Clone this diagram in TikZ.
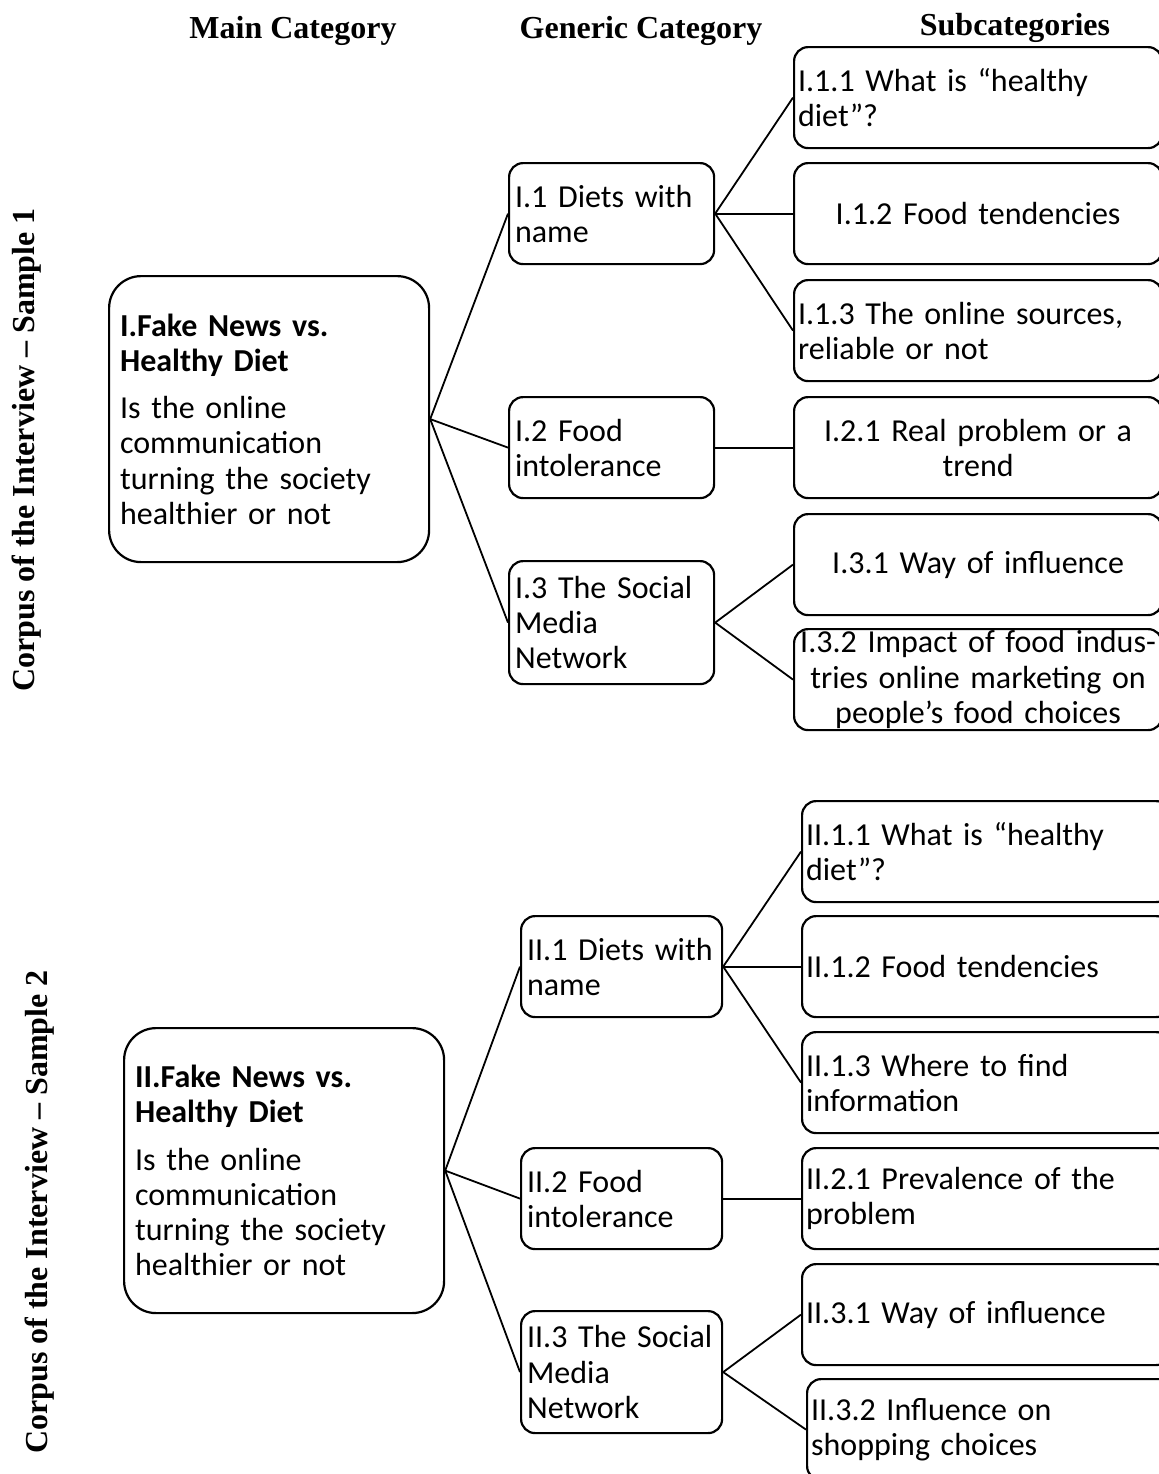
\documentclass[tikz,border=0pt]{standalone}
\usepackage{fontspec}
\setmainfont{Carlito}[WordSpace=0.8]
\newfontfamily\headfont{Liberation Serif}
\begin{document}
\begin{tikzpicture}[x=0.5pt, y=-0.5pt,
    every node/.style={font=\fontsize{16}{17.6}\selectfont},
    box/.style={draw, line width=1.1pt, rounded corners=7pt, anchor=north west, inner ysep=0pt},
    mainbox/.style={box, rounded corners=16pt, text width=149pt, inner xsep=5.5pt, minimum height=143pt, align=left},
    genbox/.style={box, text width=96.5pt, inner xsep=3pt, minimum height=50.5pt, align=left},
    subbox/.style={box, text width=180pt, inner xsep=2pt, minimum height=50.5pt, align=left},
    subc/.style={subbox, align=center},
    head/.style={font=\headfont\bfseries\fontsize{16}{18}\selectfont, anchor=base},
    link/.style={line width=0.9pt}]
  \clip (0,0) rectangle (1159,1474);

  % column heads
  \node[head] (hmain) at (293,38) {Main Category};
  \node[head] (hgen) at (641,38) {Generic Category};
  \node[head] (hsub) at (1015,35) {Subcategories};
  \node[head, anchor=center, rotate=90] (lab1) at (27,450) {Corpus of the Interview – Sample 1};
  \node[head, anchor=center, rotate=90] (lab2) at (40,1212) {Corpus of the Interview – Sample 2};

  % sample 1
  \node[mainbox] (m1) at (108,275) {\textbf{I.Fake News vs.}\\\textbf{Healthy Diet}\\[6pt]Is the online\\communication\\turning the society\\healthier or not};
  \node[genbox] (g11) at (508,162) {I.1 Diets with\\name};
  \node[genbox] (g12) at (508,396) {I.2 Food\\intolerance};
  \node[genbox, minimum height=61.5pt] (g13) at (508,560) {I.3 The Social\\Media\\Network};
  \node[subbox] (s111) at (793,46) {I.1.1 What is “healthy\\diet”?};
  \node[subc] (s112) at (793,162) {I.1.2 Food tendencies};
  \node[subbox] (s113) at (793,279) {I.1.3 The online sources,\\reliable or not};
  \node[subc] (s121) at (793,396) {I.2.1 Real problem or a\\trend};
  \node[subc] (s131) at (793,513) {I.3.1 Way of influence};
  \node[subc] (s132) at (793,628) {I.3.2 Impact of food indus-\\tries online marketing on\\people’s food choices};

  \foreach \g in {g11,g12,g13} \draw[link] (m1.east) -- (\g.west);
  \foreach \s in {s111,s112,s113} \draw[link] (g11.east) -- (\s.west);
  \draw[link] (g12.east) -- (s121.west);
  \foreach \s in {s131,s132} \draw[link] (g13.east) -- (\s.west);

  % sample 2
  \node[mainbox, minimum height=142.5pt] (m2) at (123,1027) {\textbf{II.Fake News vs.}\\\textbf{Healthy Diet}\\[6pt]Is the online\\communication\\turning the society\\healthier or not};
  \node[genbox, text width=94.5pt] (g21) at (520,915) {II.1 Diets with\\name};
  \node[genbox, text width=94.5pt] (g22) at (520,1147) {II.2 Food\\intolerance};
  \node[genbox, text width=94.5pt, minimum height=61pt] (g23) at (520,1310) {II.3 The Social\\Media\\Network};
  \node[subbox] (s211) at (801,800) {II.1.1 What is “healthy\\diet”?};
  \node[subbox] (s212) at (801,915) {II.1.2 Food tendencies};
  \node[subbox] (s213) at (801,1031) {II.1.3 Where to find\\information};
  \node[subbox] (s221) at (801,1147) {II.2.1 Prevalence of the\\problem};
  \node[subbox] (s231) at (801,1263) {II.3.1 Way of influence};
  \node[subbox] (s232) at (806,1378) {II.3.2 Influence on\\shopping choices};

  \foreach \g in {g21,g22,g23} \draw[link] (m2.east) -- (\g.west);
  \foreach \s in {s211,s212,s213} \draw[link] (g21.east) -- (\s.west);
  \draw[link] (g22.east) -- (s221.west);
  \foreach \s in {s231,s232} \draw[link] (g23.east) -- (\s.west);
\end{tikzpicture}
\end{document}
